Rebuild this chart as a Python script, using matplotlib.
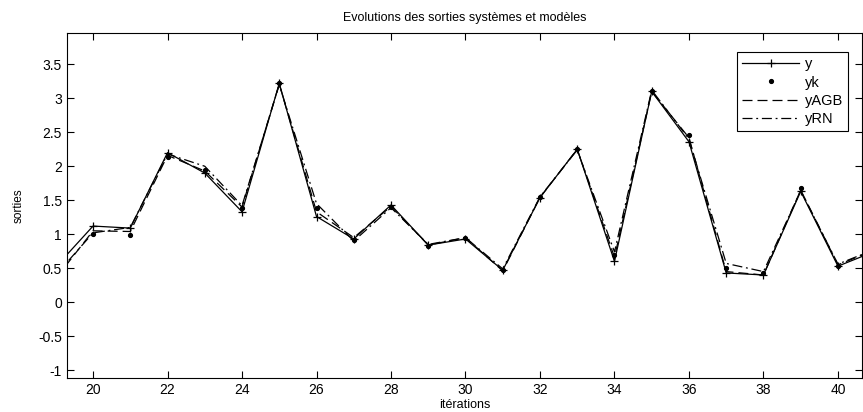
import numpy as np
import matplotlib
matplotlib.use("Agg")
import matplotlib.pyplot as plt
from matplotlib.ticker import FuncFormatter

plt.rcParams['font.family'] = ['Liberation Sans', 'DejaVu Sans']

# iterations and outputs
iterations = list(range(19, 42))
y = [0.52, 1.12, 1.09, 2.20, 1.90, 1.33, 3.22, 1.26, 0.93, 1.43, 0.84, 0.93,
     0.47, 1.54, 2.25, 0.60, 3.10, 2.36, 0.43, 0.40, 1.63, 0.53, 0.75]
yk = [0.31, 1.00, 0.985, 2.14, 1.95, 1.38, 3.22, 1.38, 0.92, 1.40, 0.83, 0.94,
      0.48, 1.55, 2.25, 0.70, 3.11, 2.46, 0.50, 0.435, 1.68, 0.53, 0.74]
yAGB = [0.35, 1.05, 1.04, 2.16, 1.93, 1.40, 3.21, 1.33, 0.95, 1.41, 0.84, 0.95,
        0.46, 1.54, 2.25, 0.66, 3.10, 2.42, 0.45, 0.40, 1.65, 0.55, 0.77]
yRN = [0.40, 1.02, 1.10, 2.18, 2.00, 1.42, 3.20, 1.45, 0.90, 1.39, 0.85, 0.95,
       0.49, 1.55, 2.24, 0.74, 3.12, 2.40, 0.57, 0.45, 1.64, 0.56, 0.78]

fig = plt.figure(figsize=(8.63, 4.12), dpi=100)
ax = fig.add_axes([0.0776, 0.0818, 0.921, 0.838])

ax.plot(iterations, y, '-', color='black', lw=0.9, marker='+', ms=6, mew=0.9, label='y')
ax.plot(iterations, yk, '.', color='black', ms=5.5, label='yk')
ax.plot(iterations, yAGB, '--', color='black', lw=0.9, dashes=(8, 4), label='yAGB')
ax.plot(iterations, yRN, '-.', color='black', lw=0.9, dashes=(8, 3, 1.5, 3), label='yRN')

ax.set_xlim(19.3, 40.64)
ax.set_ylim(-1.12, 3.96)
ax.set_xticks(np.arange(20, 41, 2))
ax.set_yticks(np.arange(-1, 3.6, 0.5))
ax.yaxis.set_major_formatter(FuncFormatter(lambda v, p: '%g' % v))
ax.tick_params(direction='in', top=True, right=True, length=5, width=0.8, labelsize=10)
for s in ax.spines.values():
    s.set_linewidth(0.8)

ax.set_title('Evolutions des sorties systèmes et modèles', fontsize=9, pad=9)
ax.set_xlabel('itérations', fontsize=9, labelpad=1)
ax.set_ylabel('sorties', fontsize=8.5, labelpad=10)

leg = ax.legend(loc='upper right', bbox_to_anchor=(0.983, 0.945), fontsize=10.5,
                fancybox=False, edgecolor='black', framealpha=1,
                handlelength=3.9, handletextpad=0.4, borderpad=0.35, labelspacing=0.3,
                borderaxespad=0)
leg.get_frame().set_linewidth(0.8)

fig.savefig('out.png', dpi=100)
